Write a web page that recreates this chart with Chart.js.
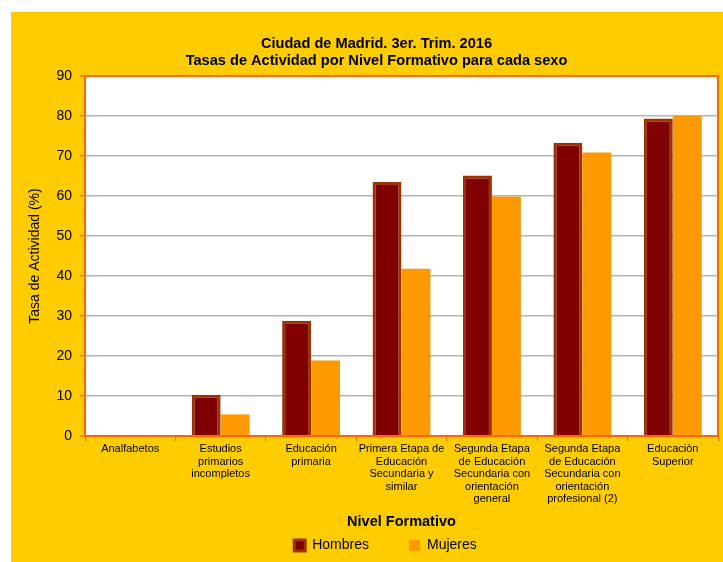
<!DOCTYPE html>
<html>
<head>
<meta charset="utf-8">
<script src="https://cdn.jsdelivr.net/npm/chart.js@4.4.1/dist/chart.umd.min.js"></script>
<style>
  html, body { margin: 0; padding: 0; background: #ffffff; }
  #wrap { position: absolute; left: 11px; top: 12px; width: 712px; height: 550px; background: #FFCC00; }
  canvas { display: block; }
</style>
</head>
<body>
<div id="wrap"><canvas id="c"></canvas></div>
<script>
const categories = [
  "Analfabetos",
  ["Estudios", "primarios", "incompletos"],
  ["Educación", "primaria"],
  ["Primera Etapa de", "Educación", "Secundaria y", "similar"],
  ["Segunda Etapa", "de Educación", "Secundaria con", "orientación", "general"],
  ["Segunda Etapa", "de Educación", "Secundaria con", "orientación", "profesional (2)"],
  ["Educaciòn", "Superior"]
];
const hombres = [0, 10.3, 28.8, 63.5, 65.1, 73.3, 79.4];
const mujeres = [0, 5.4, 18.9, 41.8, 59.9, 70.9, 80.0];
const seriesNames = ["Hombres", "Mujeres"];
const titleLines = ["Ciudad de Madrid. 3er. Trim. 2016", "Tasas de Actividad por Nivel Formativo para cada sexo"];
const yTitle = "Tasa de Actividad (%)";
const xTitle = "Nivel Formativo";
const yMin = 0, yMax = 90, yStep = 10;

const FONT = "'Liberation Sans', Arial, Helvetica, sans-serif";
const ORANGE = '#FF6600';

const plotArea = {
  id: 'plotArea',
  beforeLayout(chart) {
    const lg = chart.legend;
    if (lg && !lg._patched) {
      const orig = lg.fit.bind(lg);
      lg.fit = function () { orig(); this.height = 30; };
      lg._patched = true;
    }
  },
  afterLayout(chart) {
    const lg = chart.legend;
    if (lg) {
      const p = lg.options.labels.padding;
      lg.top = lg.bottom - 15 - 8.4 - p;
      lg.left += 21;
      lg.right += 21;
    }
    const tb = chart.titleBlock;
    if (tb) {
      tb.left += 12;
      tb.right += 12;
    }
  },
  beforeDraw(chart) {
    const {ctx, chartArea: a} = chart;
    ctx.save();
    ctx.fillStyle = '#ffffff';
    ctx.fillRect(a.left, a.top, a.right - a.left, a.bottom - a.top);
    ctx.restore();
  },
  afterDatasetsDraw(chart) {
    const {ctx, chartArea: a} = chart;
    ctx.save();
    ctx.strokeStyle = ORANGE;
    ctx.lineWidth = 2;
    ctx.strokeRect(a.left, a.top, a.right - a.left, a.bottom - a.top);
    ctx.restore();
  }
};

new Chart(document.getElementById('c'), {
  type: 'bar',
  data: {
    labels: categories,
    datasets: [
      {
        label: seriesNames[0],
        data: hombres,
        backgroundColor: '#800000',
        borderColor: '#993300',
        borderWidth: 3,
        categoryPercentage: 0.64,
        barPercentage: 1.0
      },
      {
        label: seriesNames[1],
        data: mujeres,
        backgroundColor: '#FF9900',
        borderColor: '#FF9900',
        borderWidth: 0,
        categoryPercentage: 0.64,
        barPercentage: 1.0
      }
    ]
  },
  options: {
    responsive: true,
    maintainAspectRatio: false,
    animation: false,
    layout: { padding: { left: 0, right: 5, top: 0, bottom: 0 } },
    plugins: {
      title: {
        display: true,
        text: titleLines,
        color: '#000000',
        font: { family: FONT, size: 14.6, weight: 'bold', lineHeight: 1.14 },
        padding: { top: 23.7, bottom: 7 }
      },
      legend: {
        display: true,
        position: 'bottom',
        labels: {
          color: '#000000',
          font: { family: FONT, size: 14 },
          boxWidth: 11,
          boxHeight: 11,
          padding: 40
        }
      },
      tooltip: { enabled: false }
    },
    scales: {
      x: {
        offset: true,
        grid: {
          display: true,
          drawOnChartArea: false,
          offset: true,
          tickLength: 5,
          tickColor: ORANGE,
          color: ORANGE
        },
        border: { display: true, color: ORANGE, width: 2 },
        ticks: {
          color: '#000000',
          font: { family: FONT, size: 11, lineHeight: 1.14 },
          padding: 2,
          maxRotation: 0,
          minRotation: 0,
          autoSkip: false
        },
        title: {
          display: true,
          text: xTitle,
          color: '#000000',
          font: { family: FONT, size: 14.5, weight: 'bold', lineHeight: 1.2 },
          padding: { top: 0, bottom: 1.5 }
        },
        afterFit(scale) { scale.height = 96; }
      },
      y: {
        min: yMin,
        max: yMax,
        ticks: {
          stepSize: yStep,
          color: '#000000',
          font: { family: FONT, size: 14 },
          padding: 8
        },
        grid: {
          color: '#B4B4B4',
          lineWidth: 1.5,
          tickColor: ORANGE,
          tickLength: 5
        },
        border: { display: true, color: ORANGE, width: 2 },
        title: {
          display: true,
          text: yTitle,
          color: '#000000',
          font: { family: FONT, size: 14, lineHeight: 1.2 },
          padding: { top: 15.6, bottom: 0 }
        },
        afterFit(scale) { scale.width = 74; }
      }
    }
  },
  plugins: [plotArea]
});
</script>
</body>
</html>
